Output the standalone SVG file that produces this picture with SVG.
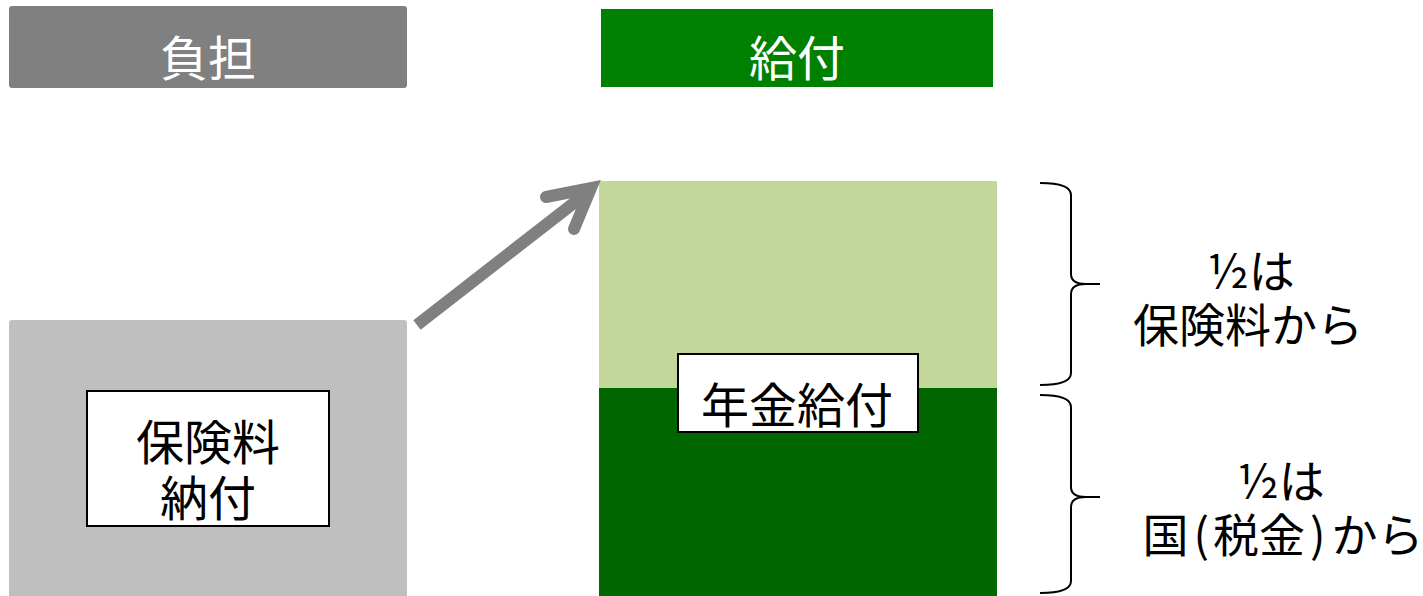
<svg xmlns="http://www.w3.org/2000/svg" width="1423" height="596" viewBox="0 0 1423 596">
<style>
text{font-family:"Noto Sans CJK JP","Noto Sans",sans-serif;text-anchor:middle}
.w{fill:#fff;font-size:48px}
.b{fill:#000;font-size:48px}
.r{fill:#000;font-size:46px}
.lbl{fill:#fff;stroke:#000;stroke-width:2}
.brace{fill:none;stroke:#000;stroke-width:2}
</style>
<rect width="1423" height="596" fill="#fff"/>
<g id="header-burden">
<rect x="9" y="6" width="398" height="82" rx="3" fill="#808080"/>
<text class="w" x="208" y="76">負担</text>
</g>
<g id="header-benefit">
<rect x="601" y="9" width="392" height="78" fill="#008000"/>
<text class="w" x="797" y="76">給付</text>
</g>
<g id="premium">
<rect x="9" y="320" width="398" height="280" rx="3" fill="#bfbfbf"/>
<rect class="lbl" x="87" y="391" width="242" height="135"/>
<text class="b" x="208" y="460">保険料</text>
<text class="b" x="208" y="516">納付</text>
</g>
<g id="pension">
<rect x="599" y="181" width="398" height="208" fill="#c4d79b"/>
<rect x="599" y="388" width="398" height="208" fill="#006600"/>
<rect class="lbl" x="678" y="354" width="240" height="78"/>
<text class="b" x="797" y="423">年金給付</text>
</g>
<g id="connectors">
<line x1="417" y1="325" x2="588" y2="192" stroke="#808080" stroke-width="12"/>
<polyline points="546,197 591,188 574,229" fill="none" stroke="#808080" stroke-width="12" stroke-linecap="round" stroke-linejoin="miter"/>
<path class="brace" d="M1040,183 Q1071,183 1071,195 V274 Q1071,284 1086,284 H1100 M1086,284 Q1071,284 1071,294 V373 Q1071,385 1040,385"/>
<path class="brace" d="M1040,395 Q1071,395 1071,407 V487 Q1071,497 1086,497 H1100 M1086,497 Q1071,497 1071,507 V581 Q1071,593 1040,593"/>
</g>
<g id="note-premium">
<text class="r" x="1251" y="288">½は</text>
<text class="r" x="1248" y="342">保険料から</text>
</g>
<g id="note-tax">
<text class="r" x="1281" y="498">½は</text>
<text class="r" x="1283" y="552" dx="0 5 4 0 5 6 0">国(税金)から</text>
</g>
</svg>
